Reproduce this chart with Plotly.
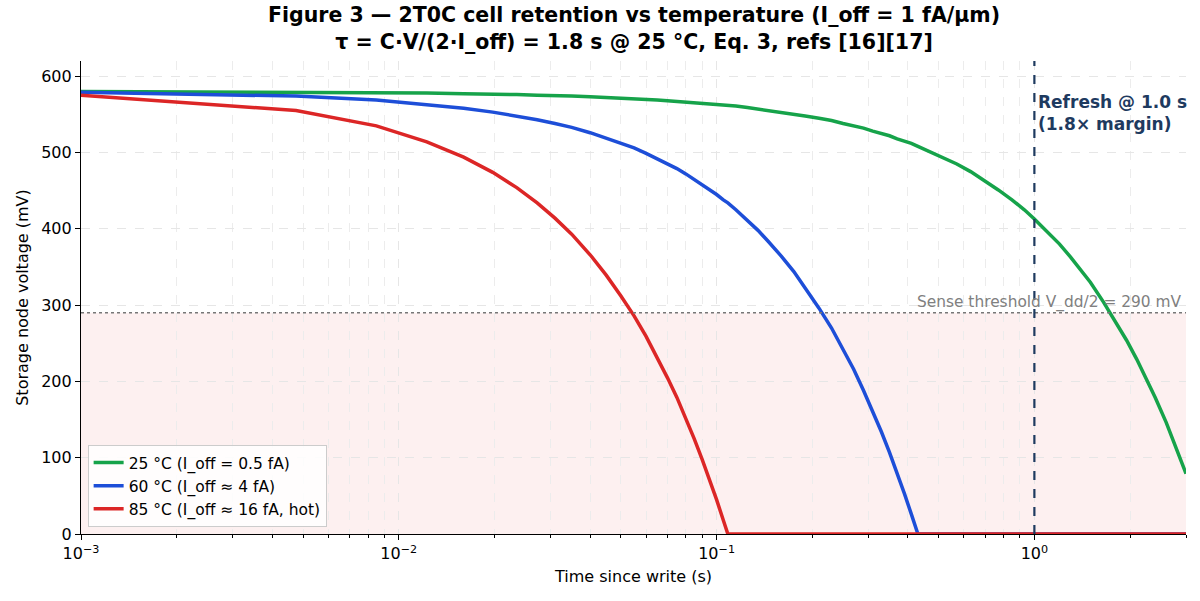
import plotly.graph_objects as go

# Sample times (s)
t_s = [0.001, 0.00475, 0.0085, 0.01225, 0.016, 0.01975, 0.0235, 0.02725, 0.031, 0.035,
       0.04, 0.045, 0.05, 0.055, 0.06, 0.065, 0.07, 0.075, 0.08, 0.085,
       0.09, 0.095, 0.1, 0.105, 0.1085,
       0.115, 0.125, 0.135, 0.145, 0.16, 0.175, 0.19, 0.21, 0.23, 0.25,
       0.27, 0.29, 0.31, 0.33, 0.35, 0.37, 0.39, 0.41, 0.43,
       0.47, 0.52, 0.57, 0.63, 0.7, 0.77, 0.85, 0.93, 1.0,
       1.1, 1.2, 1.3, 1.4, 1.5, 1.65, 1.8, 1.95, 2.1, 2.25, 2.4, 2.6, 2.8, 3.0]

# Storage node voltage (mV)
v_25c = [580, 579, 579, 578, 577, 577, 576, 575, 575, 574,
         573, 572, 572, 571, 570, 569, 568, 567, 567, 566,
         565, 564, 563, 562, 562,
         561, 559, 557, 556, 553, 551, 548, 545, 542, 538,
         535, 532, 528, 525, 522, 518, 515, 512, 508,
         501, 493, 485, 475, 463, 451, 438, 425, 413,
         396, 380, 363, 346, 330, 304, 279, 254, 229, 204, 179, 146, 112, 79]
v_60c = [579, 574, 569, 563, 558, 553, 548, 543, 538, 533,
         526, 519, 512, 506, 499, 492, 485, 479, 472, 465,
         458, 452, 445, 438, 434,
         425, 411, 398, 384, 364, 344, 323, 296, 270, 242,
         216, 188, 161, 134, 107, 80, 53, 26, 0,
         0, 0, 0, 0, 0, 0, 0, 0, 0,
         0, 0, 0, 0, 0, 0, 0, 0, 0, 0, 0, 0, 0, 0]
v_85c = [575, 555, 535, 514, 494, 474, 454, 434, 414, 393,
         366, 339, 312, 286, 259, 232, 205, 179, 152, 125,
         98, 72, 45, 18, 0,
         0, 0, 0, 0, 0, 0, 0, 0, 0, 0,
         0, 0, 0, 0, 0, 0, 0, 0, 0,
         0, 0, 0, 0, 0, 0, 0, 0, 0,
         0, 0, 0, 0, 0, 0, 0, 0, 0, 0, 0, 0, 0, 0]

series_names = ["25 °C (I_off = 0.5 fA)", "60 °C (I_off ≈ 4 fA)", "85 °C (I_off ≈ 16 fA, hot)"]
series_colors = ["#16a34a", "#1d4ed8", "#dc2626"]

threshold_mv = 290
refresh_s = 1.0
x_tickvals = [0.001, 0.01, 0.1, 1]
x_ticktext = ["10<sup>−3</sup>", "10<sup>−2</sup>", "10<sup>−1</sup>", "10<sup>0</sup>"]
y_tickvals = [0, 100, 200, 300, 400, 500, 600]

FONT = "DejaVu Sans, Liberation Sans, sans-serif"

fig = go.Figure()

for vals, name, col in zip([v_25c, v_60c, v_85c], series_names, series_colors):
    fig.add_trace(go.Scatter(x=t_s, y=vals, mode="lines", name=name,
                             line=dict(color=col, width=3.5)))

# Below-threshold band
fig.add_shape(type="rect", xref="paper", x0=0, x1=1, yref="y", y0=0, y1=threshold_mv,
              fillcolor="rgba(220,38,38,0.07)", line=dict(width=0), layer="below")
# Threshold line
fig.add_shape(type="line", xref="paper", x0=0, x1=1, yref="y", y0=threshold_mv, y1=threshold_mv,
              line=dict(color="#777777", width=1.6, dash="dot"))
# Refresh line
fig.add_shape(type="line", xref="x", x0=refresh_s, x1=refresh_s, yref="paper", y0=0, y1=1,
              line=dict(color="#1e3a5f", width=2.2, dash="dash"))

fig.add_annotation(xref="paper", x=0.997, yref="y", y=threshold_mv, text="Sense threshold V_dd/2 = 290 mV",
                   showarrow=False, xanchor="right", yanchor="bottom", yshift=-1,
                   font=dict(family=FONT, size=15.4, color="#808080"))
fig.add_annotation(xref="x", x=0, yref="y", y=582, text="<b>Refresh @ 1.0 s<br>(1.8× margin)</b>",
                   showarrow=False, xanchor="left", yanchor="top", xshift=2, align="left",
                   font=dict(family=FONT, size=17, color="#1e3a5f"))

# Title as annotation for precise placement
fig.add_annotation(xref="paper", x=0.5, yref="paper", y=1, xanchor="center", yanchor="bottom",
                   yshift=5, showarrow=False, align="center",
                   text="<b>Figure 3 — 2T0C cell retention vs temperature (I_off = 1 fA/μm)<br>"
                        "τ = C·V/(2·I_off) = 1.8 s @ 25 °C, Eq. 3, refs [16][17]</b>",
                   font=dict(family=FONT, size=20.5, color="black"))

fig.update_layout(
    width=1200, height=601,
    margin=dict(l=81, r=14, t=61, b=67),
    paper_bgcolor="white", plot_bgcolor="white",
    font=dict(family=FONT, size=16, color="black"),
    legend=dict(x=0.006, y=0.015, xanchor="left", yanchor="bottom",
                bgcolor="rgba(255,255,255,0.85)", bordercolor="#cccccc", borderwidth=1,
                font=dict(family=FONT, size=15.5), tracegroupgap=0),
    showlegend=True,
)

fig.update_xaxes(type="log", range=[-3, 0.4771], tickvals=x_tickvals, ticktext=x_ticktext,
                 showline=True, linecolor="black", linewidth=1.2, mirror=False,
                 ticks="outside", ticklen=5, tickcolor="black",
                 showgrid=True, gridcolor="#e6e6e6", griddash="dash", gridwidth=1,
                 minor=dict(dtick="D1", ticks="outside", ticklen=3, tickcolor="black",
                            showgrid=True, gridcolor="#ececec", griddash="dash"),
                 zeroline=False,
                 title=dict(text="Time since write (s)", font=dict(family=FONT, size=16), standoff=8),
                 tickfont=dict(family=FONT, size=16))
fig.update_yaxes(range=[0, 620], tickvals=y_tickvals,
                 showline=True, linecolor="black", linewidth=1.2,
                 ticks="outside", ticklen=5, tickcolor="black",
                 showgrid=True, gridcolor="#e6e6e6", griddash="dash", gridwidth=1,
                 zeroline=False,
                 title=dict(text="Storage node voltage (mV)", font=dict(family=FONT, size=16), standoff=8),
                 tickfont=dict(family=FONT, size=16))

fig.write_html("out.html")
